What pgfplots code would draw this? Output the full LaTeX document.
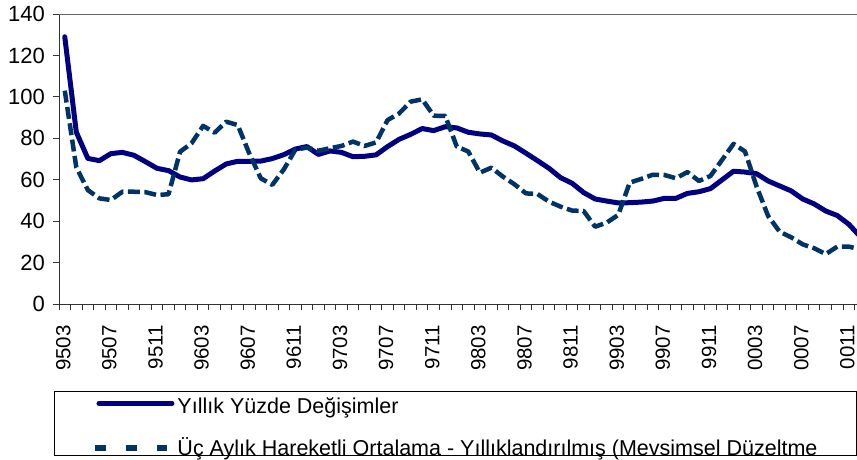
\documentclass[border=0pt]{standalone}
\usepackage{pgfplots}
\pgfplotsset{compat=1.18}
\usepackage{pgfplotstable}
\usepackage{fontspec}
\setmainfont{Liberation Sans}
\definecolor{solidc}{HTML}{000080}
\definecolor{dashc}{HTML}{003366}

\pgfplotstableread{
i s d
0 129 103
1 83 66
2 70.3 55
3 69.2 51
4 72.6 50.2
5 73.2 54.2
6 71.8 54.2
7 68.7 54
8 65.5 52.6
9 64.4 53
10 61.3 73.5
11 59.9 77.6
12 60.5 86
13 64.2 82.7
14 67.6 88
15 68.9 86.4
16 68.9 72.7
17 69 60.7
18 70.2 57.5
19 72.1 65
20 74.8 74.5
21 76 75.5
22 72.2 74
23 73.9 75.2
24 73.2 76.3
25 71.1 78.4
26 71.3 76.3
27 72 78
28 76 88.8
29 79.5 92
30 81.9 97.7
31 84.7 98.8
32 83.7 90.9
33 85.6 90.8
34 85 76
35 82.9 73.6
36 82.1 63.4
37 81.6 65.8
38 78.7 61.5
39 76.3 57.8
40 72.8 53.4
41 69.2 53.1
42 65.5 49.4
43 61 47
44 58.3 45.1
45 53.8 44.9
46 50.7 37.3
47 49.7 39.3
48 48.8 43
49 48.9 58.6
50 49.2 60.4
51 49.7 62.4
52 51 62.3
53 51 60.7
54 53.4 63.7
55 54.2 59.4
56 55.7 61.8
57 59.9 69.5
58 64.1 77.3
59 63.7 73.6
60 62.9 56.7
61 59.4 42.5
62 57 34.9
63 54.6 32.2
64 50.7 28.8
65 48.3 26.9
66 44.9 24.1
67 42.7 27.7
68 38.5 27.7
69 32.5 26.4
}\datatable

\begin{document}
\begin{tikzpicture}[x=1pt,y=1pt]
\begin{axis}[
  at={(59pt,155pt)}, anchor=south west,
  scale only axis, width=798pt, height=290pt,
  xmin=-0.5, xmax=68.71, ymin=0, ymax=140,
  axis x line*=bottom, axis y line*=left,
  axis line style={-, black!80, line width=1pt},
  tick style={black!80, line width=1pt},
  tick align=outside,
  major tick length=6pt,
  ytick={0,20,...,140},
  /pgf/number format/assume math mode=true,
  yticklabel style={font=\fontsize{22}{24}\selectfont, anchor=east, inner sep=0pt, xshift=-8pt},
  xtick={-0.5,0.5,...,68.5},
  xticklabels={},
  extra x ticks={0,4,...,68},
  extra x tick labels={9503,9507,9511,9603,9607,9611,9703,9707,9711,9803,9807,9811,9903,9907,9911,0003,0007,0011},
  extra x tick style={major tick length=0pt},
  xticklabel style={font=\fontsize{20.5}{22}\selectfont, xshift=-1.5pt, yshift=-21pt, rotate=90, anchor=east, inner sep=0pt},
  legend style={
    at={(axis description cs:-0.00627,-0.3)}, anchor=north west,
    draw=black, line width=1pt,
    inner xsep=0pt, inner ysep=0pt,
    row sep=20.6pt,
    font=\fontsize{21.5}{24}\selectfont,
    nodes={text height=21.7pt, text depth=0pt, inner xsep=3pt, inner ysep=0pt},
  },
  legend cell align=left,
]
\addplot[solidc, line width=5pt, line join=round, line cap=round,
  legend image code/.code={\path[draw=none] (0pt,0pt) -- (115pt,0pt); \draw[solidc, line width=5pt, line cap=round, solid] (44.5pt,-1.2pt) -- (117.5pt,-1.2pt);}]
  table[x=i, y=s]{\datatable};
\addlegendentry{Yıllık Yüzde Değişimler}
\addplot[dashc, line width=4.5pt, line join=round, dash pattern=on 12pt off 4.5pt,
  legend image code/.code={\path[draw=none] (0pt,0pt) -- (115pt,0pt); \draw[dashc, line width=6pt, line cap=butt, dash pattern=on 11pt off 20pt] (41pt,-2.9pt) -- (113pt,-2.9pt);}]
  table[x=i, y=d]{\datatable};
\addlegendentry{\makebox[676pt][l]{Üç Aylık Hareketli Ortalama - Yıllıklandırılmış (Mevsimsel Düzeltme}}
\draw[black!60, line width=1pt] (rel axis cs:0,1) -- (rel axis cs:1,1);
\end{axis}
\pgfresetboundingbox
\useasboundingbox (0,0) rectangle (857,459);
\end{tikzpicture}
\end{document}
